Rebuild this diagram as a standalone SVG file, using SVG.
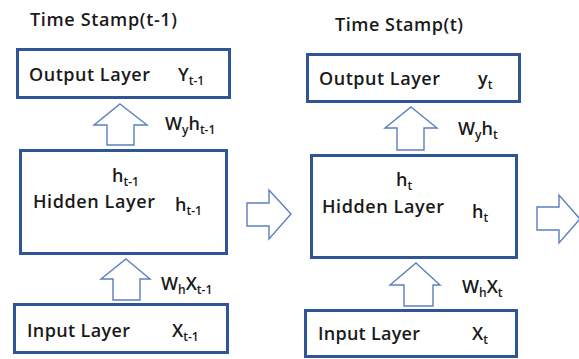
<svg xmlns="http://www.w3.org/2000/svg" width="579" height="359" viewBox="0 0 579 359">
  <style>
    .box { fill: #ffffff; stroke: #2f5597; stroke-width: 3; }
    .arrow { fill: #ffffff; stroke: #5b7fc0; stroke-width: 1.4; stroke-linejoin: miter; }
    text { font-family: "Open Sans", "Noto Sans", "Liberation Sans", sans-serif; font-weight: 600; fill: #1a1a1a; }
    .lbl { font-size: 18px; }
    .ttl { font-size: 18px; }
    .sub { font-size: 12px; }
  </style>
  <rect width="579" height="359" fill="#ffffff"/>

  <!-- time step t-1 -->
  <text class="ttl" x="30" y="26" textLength="147">Time Stamp(t-1)</text>

  <g id="output-prev">
    <rect class="box" x="17.5" y="49.5" width="212" height="48"/>
    <text class="lbl" x="29" y="81" textLength="121">Output Layer</text>
    <text class="lbl" x="178" y="81">Y<tspan class="sub" dy="4">t-1</tspan></text>
  </g>

  <g id="hidden-prev">
    <rect class="box" x="20.5" y="150.5" width="206" height="103"/>
    <text class="lbl" x="112" y="182">h<tspan class="sub" dy="4">t-1</tspan></text>
    <text class="lbl" x="33" y="208" textLength="122">Hidden Layer</text>
    <text class="lbl" x="175" y="211">h<tspan class="sub" dy="4">t-1</tspan></text>
  </g>

  <g id="input-prev">
    <rect class="box" x="14.5" y="304.5" width="213" height="48"/>
    <text class="lbl" x="27" y="337" textLength="103">Input Layer</text>
    <text class="lbl" x="172" y="337">X<tspan class="sub" dy="4">t-1</tspan></text>
  </g>

  <!-- time step t -->
  <text class="ttl" x="335" y="31" textLength="128">Time Stamp(t)</text>

  <g id="output-cur">
    <rect class="box" x="307.5" y="54.5" width="212" height="47"/>
    <text class="lbl" x="319" y="85" textLength="121">Output Layer</text>
    <text class="lbl" x="478" y="85">y<tspan class="sub" dy="4">t</tspan></text>
  </g>

  <g id="hidden-cur">
    <rect class="box" x="311.5" y="155.5" width="205" height="102"/>
    <text class="lbl" x="396" y="186">h<tspan class="sub" dy="4">t</tspan></text>
    <text class="lbl" x="322" y="213" textLength="122">Hidden Layer</text>
    <text class="lbl" x="472" y="218">h<tspan class="sub" dy="4">t</tspan></text>
  </g>

  <g id="input-cur">
    <rect class="box" x="305.5" y="310.5" width="211" height="46"/>
    <text class="lbl" x="318" y="340" textLength="102">Input Layer</text>
    <text class="lbl" x="472" y="340">X<tspan class="sub" dy="4">t</tspan></text>
  </g>

  <!-- block arrows -->
  <g id="connectors">
    <!-- hidden(t-1) to output(t-1) -->
    <polygon class="arrow" points="120,104 147,125 134,125 134,145 107,145 107,125 94,125"/>
    <text class="lbl" x="165" y="130">W<tspan class="sub" dy="4">y</tspan><tspan dy="-4">h</tspan><tspan class="sub" dy="4">t-1</tspan></text>

    <!-- input(t-1) to hidden(t-1) -->
    <polygon class="arrow" points="126,259 150,279 140,279 140,300 113,300 113,279 101,279"/>
    <text class="lbl" x="161" y="290">W<tspan class="sub" dy="4">h</tspan><tspan dy="-4">X</tspan><tspan class="sub" dy="4">t-1</tspan></text>

    <!-- t-1 to t -->
    <polygon class="arrow" points="291,214 269,190 269,203 247,203 247,226 269,226 269,239"/>

    <!-- hidden(t) to output(t) -->
    <polygon class="arrow" points="411,107 437,128 424,128 424,150 397,150 397,128 385,128"/>
    <text class="lbl" x="458" y="135">W<tspan class="sub" dy="4">y</tspan><tspan dy="-4">h</tspan><tspan class="sub" dy="4">t</tspan></text>

    <!-- input(t) to hidden(t) -->
    <polygon class="arrow" points="416,263 440,285 433,285 433,306 404,306 404,285 390,285"/>
    <text class="lbl" x="462" y="293">W<tspan class="sub" dy="4">h</tspan><tspan dy="-4">X</tspan><tspan class="sub" dy="4">t</tspan></text>

    <!-- t to next -->
    <polygon class="arrow" points="580,219 559,195 559,207 537,207 537,230 559,230 559,243"/>
  </g>
</svg>
